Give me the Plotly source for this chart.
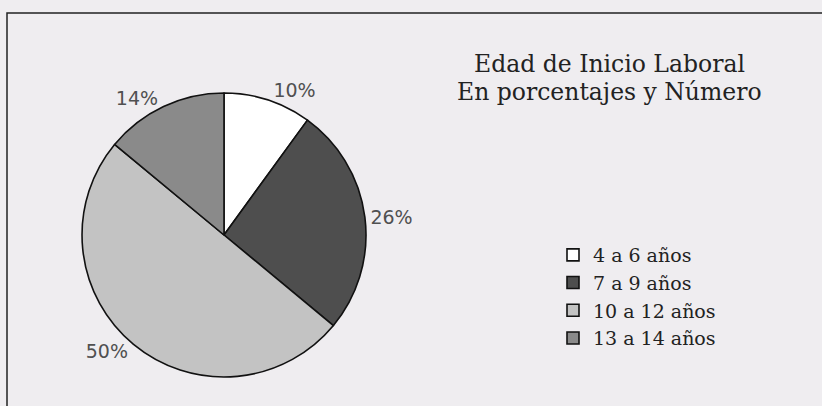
import plotly.graph_objects as go

categories = ["4 a 6 años", "7 a 9 años", "10 a 12 años", "13 a 14 años"]
values = [10, 26, 50, 14]
colors = ["#ffffff", "#4e4e4e", "#c3c3c3", "#8a8a8a"]
title_lines = ["Edad de Inicio Laboral", "En porcentajes y Número"]

W, H = 822, 406
cx, cy, r = 224, 235, 142

fig = go.Figure(go.Pie(
    labels=categories,
    values=values,
    sort=False,
    direction="clockwise",
    rotation=0,
    marker=dict(colors=colors, line=dict(color="#111111", width=1.6)),
    textinfo="percent",
    texttemplate="%{percent:.0%}",
    textposition="outside",
    textfont=dict(family="DejaVu Sans, sans-serif", size=19, color="#505050"),
    domain=dict(x=[(cx - r) / W, (cx + r) / W], y=[1 - (cy + r) / H, 1 - (cy - r) / H]),
    showlegend=True,
))

title_y = [64, 92]
annotations = [dict(text=t, xref="paper", yref="paper",
                    x=609 / W, y=1 - yy / H, xanchor="center", yanchor="middle",
                    showarrow=False,
                    font=dict(family="DejaVu Serif, serif", size=23.5, color="#222222"))
               for t, yy in zip(title_lines, title_y)]

fig.update_layout(
    width=W, height=H,
    margin=dict(l=0, r=0, t=0, b=0),
    paper_bgcolor="#efedf0",
    plot_bgcolor="#efedf0",
    showlegend=True,
    legend=dict(
        x=553 / W, y=1 - 236 / H, xanchor="left", yanchor="top",
        font=dict(family="DejaVu Serif, serif", size=19, color="#222222"),
        bgcolor="rgba(0,0,0,0)",
        itemwidth=30,
    ),
    shapes=[dict(type="rect", xref="paper", yref="paper",
                 x0=7 / W, x1=1.05, y0=-0.05, y1=1 - 13 / H,
                 line=dict(color="#222222", width=1.5))],
    annotations=annotations,
)

fig.write_html("out.html", config={"displayModeBar": False},
               post_script="document.body.style.margin='0';")
